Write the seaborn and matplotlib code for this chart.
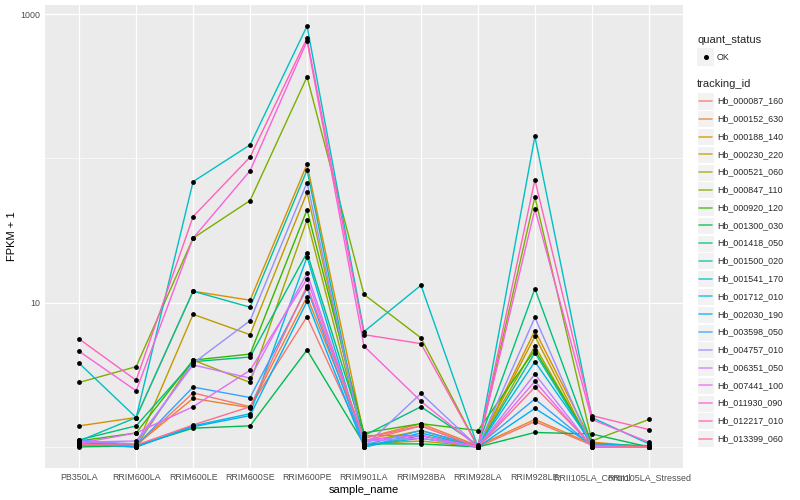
import numpy as np
import pandas as pd
import matplotlib
matplotlib.use("Agg")
import matplotlib.pyplot as plt
import seaborn as sns
from matplotlib.patches import Rectangle
from matplotlib.lines import Line2D
from matplotlib.ticker import FixedLocator, NullFormatter

# ---------------------------------------------------------------
# dados (FPKM + 1)
# ---------------------------------------------------------------
samples = ["PB350LA", "RRIM600LA", "RRIM600LE", "RRIM600SE", "RRIM600PE",
           "RRIM901LA", "RRIM928BA", "RRIM928LA", "RRIM928LE",
           "RRII105LA_Control", "RRII105LA_Stressed"]

tracking_ids = ["Hb_000087_160", "Hb_000152_630", "Hb_000188_140", "Hb_000230_220",
                "Hb_000521_060", "Hb_000847_110", "Hb_000920_120", "Hb_001300_030",
                "Hb_001418_050", "Hb_001500_020", "Hb_001541_170", "Hb_001712_010",
                "Hb_002030_190", "Hb_003598_050", "Hb_004757_010", "Hb_006351_050",
                "Hb_007441_100", "Hb_011930_090", "Hb_012217_010", "Hb_013399_060"]

hb_000087_160 = [1.05, 1.02, 2.37, 1.9, 8.0, 1.1, 1.4, 1.0, 1.5, 1.03, 1.0]
hb_000152_630 = [1.08, 1.03, 2.17, 1.87, 11.0, 1.15, 1.45, 1.02, 1.55, 1.05, 1.0]
hb_000188_140 = [1.4, 1.6, 12.0, 10.4, 91, 1.2, 1.2, 1.0, 6.4, 1.08, 1.0]
hb_000230_220 = [1.03, 1.0, 8.3, 6.0, 58, 1.05, 1.1, 1.0, 5.85, 1.0, 1.0]
hb_000521_060 = [1.02, 1.01, 4.0, 2.8, 37.5, 1.08, 1.3, 1.0, 5.0, 1.02, 1.0]
hb_000847_110 = [2.8, 3.6, 28, 51, 367, 11.4, 5.7, 1.0, 54, 1.1, 1.55]
hb_000920_120 = [1.1, 1.25, 4.0, 4.4, 44, 1.25, 1.45, 1.3, 4.7, 1.05, 1.0]
hb_001300_030 = [1.0, 1.02, 1.35, 1.4, 4.7, 1.05, 1.05, 1.0, 1.26, 1.23, 1.0]
hb_001418_050 = [1.12, 1.4, 3.9, 4.2, 22.2, 1.2, 1.9, 1.03, 12.5, 1.05, 1.02]
hb_001500_020 = [1.1, 1.6, 12.0, 9.3, 83, 1.0, 1.2, 1.0, 4.5, 1.03, 1.0]
hb_001541_170 = [3.8, 1.6, 69, 124, 826, 6.3, 13.2, 1.0, 142, 1.6, 1.05]
hb_001712_010 = [1.05, 1.0, 1.4, 1.7, 20.7, 1.02, 1.15, 1.0, 3.9, 1.06, 1.0]
hb_002030_190 = [1.08, 1.0, 1.38, 1.65, 10.2, 1.0, 1.25, 1.0, 1.85, 1.04, 1.0]
hb_003598_050 = [1.12, 1.02, 2.6, 2.2, 12.6, 1.03, 1.3, 1.02, 2.15, 1.02, 1.0]
hb_004757_010 = [1.1, 1.05, 3.8, 7.5, 68, 1.0, 2.35, 1.0, 7.9, 1.0, 1.0]
hb_006351_050 = [1.08, 1.1, 3.7, 3.0, 16.0, 1.1, 1.15, 1.0, 3.2, 1.0, 1.0]
hb_007441_100 = [1.06, 1.25, 1.9, 3.4, 14.6, 1.12, 1.2, 1.0, 2.85, 1.0, 1.0]
hb_011930_090 = [4.6, 2.45, 28, 82, 650, 5.0, 2.07, 1.0, 44.5, 1.55, 1.08]
hb_012217_010 = [5.6, 2.9, 39.5, 102, 680, 6.0, 5.2, 1.0, 71, 1.65, 1.32]
hb_013399_060 = [1.04, 1.03, 1.42, 1.9, 13.1, 1.15, 1.4, 1.0, 2.6, 1.03, 1.0]

series = [hb_000087_160, hb_000152_630, hb_000188_140, hb_000230_220, hb_000521_060,
          hb_000847_110, hb_000920_120, hb_001300_030, hb_001418_050, hb_001500_020,
          hb_001541_170, hb_001712_010, hb_002030_190, hb_003598_050, hb_004757_010,
          hb_006351_050, hb_007441_100, hb_011930_090, hb_012217_010, hb_013399_060]

# paleta padrão do ggplot (hue_pal) para 20 níveis
cores = ["#F8766D", "#EA8331", "#D89000", "#C09B00", "#A3A500", "#7CAE00", "#39B600",
         "#00BB4E", "#00BF7D", "#00C1A3", "#00BFC4", "#00BAE0", "#00B0F6", "#35A2FF",
         "#9590FF", "#C77CFF", "#E76BF3", "#FA62DB", "#FF62BC", "#FF6C91"]

linhas = []
for tid, vals in zip(tracking_ids, series):
    for s, v in zip(samples, vals):
        linhas.append({"tracking_id": tid, "sample_name": s, "fpkm": v})
df = pd.DataFrame(linhas)
df["x"] = df["sample_name"].map({s: i for i, s in enumerate(samples)})

# ---------------------------------------------------------------
# tema estilo ggplot
# ---------------------------------------------------------------
sns.set_theme(style="darkgrid", rc={"axes.facecolor": "#EBEBEB",
                                    "grid.color": "white"})
plt.rcParams["font.family"] = ["Liberation Sans", "DejaVu Sans"]

W, H = 800, 500
fig = plt.figure(figsize=(8, 5), dpi=100)
ax = fig.add_axes([45 / W, 1 - 468 / H, (683 - 45) / W, (468 - 5) / H])

paleta = dict(zip(tracking_ids, cores))
sns.lineplot(data=df, x="x", y="fpkm", hue="tracking_id", palette=paleta,
             estimator=None, sort=False, legend=False, linewidth=1.0, ax=ax)
sns.scatterplot(data=df, x="x", y="fpkm", color="black", s=12, linewidth=0,
                legend=False, zorder=3, ax=ax)

ax.set_yscale("log")
lo, hi = np.log10(df["fpkm"].min()), np.log10(df["fpkm"].max())
pad = 0.05 * (hi - lo)
ax.set_ylim(10 ** (lo - pad), 10 ** (hi + pad))
ax.set_xlim(-0.6, len(samples) - 1 + 0.6)

ax.set_yticks([10, 1000])
ax.set_yticklabels(["10", "1000"])
ax.yaxis.set_minor_locator(FixedLocator([1, 100]))
ax.yaxis.set_minor_formatter(NullFormatter())
ax.set_xticks(range(len(samples)))
ax.set_xticklabels(samples)

ax.grid(which="major", color="white", linewidth=0.9)
ax.grid(which="minor", axis="y", color="white", linewidth=0.45)
ax.tick_params(which="major", length=2.2, width=0.6, color="#333333",
               labelsize=6.4, labelcolor="#4D4D4D", pad=1.5)
ax.tick_params(which="minor", length=0)
for sp in ax.spines.values():
    sp.set_visible(False)

ax.set_xlabel("sample_name", fontsize=8, color="black", labelpad=2)
ax.set_ylabel("FPKM + 1", fontsize=8, color="black", labelpad=2)

# ---------------------------------------------------------------
# legendas (estilo ggplot, desenhadas à mão)
# ---------------------------------------------------------------
def px(x, y):
    return x / W, 1 - y / H

tf = fig.transFigure
kx0, kw, kh = 697, 17, 17
fig.text(*px(697, 40), "quant_status", fontsize=8, va="center", ha="left")
fig.add_artist(Rectangle(px(kx0, 57 + kh / 2), kw / W, kh / H, transform=tf,
                         facecolor="#F2F2F2", edgecolor="none"))
fig.add_artist(Line2D([px(kx0 + kw / 2, 0)[0]], [px(0, 57)[1]], transform=tf,
                      marker="o", markersize=2.6, color="black", linestyle="none"))
fig.text(*px(717, 57), "OK", fontsize=6.4, va="center", ha="left")

fig.text(*px(697, 84), "tracking_id", fontsize=8, va="center", ha="left")
passo = 17.77
for i, (tid, c) in enumerate(zip(tracking_ids, cores)):
    yc = 101 + i * passo
    fig.add_artist(Rectangle(px(kx0, yc + kh / 2), kw / W, kh / H, transform=tf,
                             facecolor="#F2F2F2", edgecolor="white", linewidth=0.8))
    fig.add_artist(Line2D([px(kx0 + 2, 0)[0], px(kx0 + kw - 2, 0)[0]],
                          [px(0, yc)[1]] * 2, transform=tf, color=c,
                          linewidth=1.2, alpha=0.75))
    fig.text(*px(717, yc), tid, fontsize=6.4, va="center", ha="left")

fig.savefig("out.png", dpi=100)
